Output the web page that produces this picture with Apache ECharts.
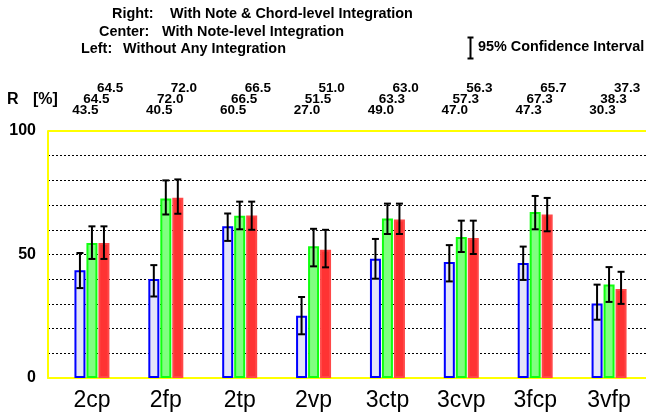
<!DOCTYPE html>
<html>
<head>
<meta charset="utf-8">
<script src="https://cdn.jsdelivr.net/npm/echarts@6/dist/echarts.min.js"></script>
<style>
html,body{margin:0;padding:0;background:#fff;}
#main{width:646px;height:414px;}
</style>
</head>
<body>
<div id="main"></div>
<script>
const categories = ['2cp','2fp','2tp','2vp','3ctp','3cvp','3fcp','3vfp'];
const leftVals   = [43.6, 40.1, 61.4, 25.2, 48.3, 47.0, 46.6, 30.2];
const centerVals = [54.7, 72.7, 65.7, 53.3, 64.6, 57.1, 67.2, 37.9];
const rightVals  = [54.7, 73.0, 65.8, 51.9, 64.2, 56.7, 66.2, 36.0];
const leftLow    = [36.4, 33.0, 55.5, 17.7, 40.2, 39.1, 39.7, 23.6];
const leftHigh   = [50.6, 45.7, 66.6, 32.8, 56.3, 53.8, 53.2, 37.8];
const centerLow  = [48.2, 66.2, 60.2, 45.2, 58.3, 51.0, 60.2, 30.8];
const centerHigh = [61.4, 80.0, 71.4, 60.4, 70.6, 63.7, 73.7, 44.9];
const rightLow   = [48.2, 66.5, 60.0, 44.8, 58.3, 50.2, 59.4, 30.0];
const rightHigh  = [61.4, 80.4, 71.4, 60.0, 70.6, 63.7, 72.9, 43.0];
const labelRight  = ['64.5','72.0','66.5','51.0','63.0','56.3','65.7','37.3'];
const labelCenter = ['64.5','72.0','66.5','51.5','63.3','57.3','67.3','38.3'];
const labelLeft   = ['43.5','40.5','60.5','27.0','49.0','47.0','47.3','30.3'];
const yTicks = [0, 50, 100];

const FONT = '"Liberation Sans", Arial, sans-serif';
const chart = echarts.init(document.getElementById('main'), null, {renderer:'canvas'});

function errSeries(low, high, offset) {
  return {
    type: 'custom', xAxisIndex: 1, yAxisIndex: 2, z: 10,
    data: categories.map((c, i) => [i, low[i], high[i]]),
    renderItem: function (params, api) {
      const a = api.coord([api.value(0), api.value(1)]);
      const b = api.coord([api.value(0), api.value(2)]);
      const x = a[0] + offset;
      const st = {stroke: '#000', lineWidth: 2};
      return {type: 'group', children: [
        {type: 'line', shape: {x1: x, y1: a[1], x2: x, y2: b[1]}, style: st},
        {type: 'line', shape: {x1: x - 3.5, y1: a[1], x2: x + 3.5, y2: a[1]}, style: st},
        {type: 'line', shape: {x1: x - 3.5, y1: b[1], x2: x + 3.5, y2: b[1]}, style: st}
      ]};
    }
  };
}

function labelSeries(labels, dx, dy) {
  return {
    type: 'custom', xAxisIndex: 1, yAxisIndex: 2, z: 10, clip: false,
    data: categories.map((c, i) => [i, 100]),
    renderItem: function (params, api) {
      const p = api.coord([api.value(0), api.value(1)]);
      return {type: 'text', x: p[0] + dx, y: p[1] + dy,
        style: {text: labels[params.dataIndex], fill: '#000', font: 'bold 13.5px ' + FONT,
          textAlign: 'left', textVerticalAlign: 'middle'}};
    }
  };
}

const LF = 'bold 14.4px ' + FONT;
const option = {
  animation: false,
  backgroundColor: '#fff',
  grid: [
    {left: 48, right: 0, top: 131, bottom: 36},
    {left: 55, right: 0, top: 131, bottom: 36}
  ],
  xAxis: [
    {type: 'value', gridIndex: 0, min: 0, max: 1,
     axisLine: {show: true, onZero: true, lineStyle: {color: '#ffff00', width: 2}},
     axisTick: {show: false}, axisLabel: {show: false}, splitLine: {show: false}},
    {type: 'category', gridIndex: 1, data: categories,
     axisLine: {show: false}, axisTick: {show: false},
     axisLabel: {fontSize: 23, color: '#000', fontFamily: FONT, margin: 11}}
  ],
  yAxis: [
    {type: 'value', gridIndex: 0, min: 0, max: 100, interval: 10,
     axisLine: {show: true, lineStyle: {color: '#ffff00', width: 2}},
     axisTick: {show: false},
     axisLabel: {margin: 12, fontSize: 16, fontWeight: 'bold', color: '#000', fontFamily: FONT,
       formatter: v => yTicks.indexOf(v) >= 0 ? String(v) : ''},
     splitLine: {show: true, showMinLine: false, showMaxLine: false,
       lineStyle: {color: '#000', width: 1, type: [2, 2]}}},
    {type: 'value', gridIndex: 0, min: 0, max: 100, interval: 100, z: 3,
     axisLine: {show: false}, axisTick: {show: false}, axisLabel: {show: false},
     splitLine: {show: true, lineStyle: {color: '#ffff00', width: 2}}},
    {type: 'value', gridIndex: 1, min: 0, max: 100, show: false}
  ],
  series: [
    {type: 'bar', xAxisIndex: 1, yAxisIndex: 2, data: leftVals, barWidth: 11, barGap: '9%', z: 5,
     itemStyle: {color: '#e4e4f8', borderColor: '#0000ff', borderWidth: 2}},
    {type: 'bar', xAxisIndex: 1, yAxisIndex: 2, data: centerVals, barWidth: 11, barGap: '9%', z: 5,
     itemStyle: {color: '#80ff80', borderColor: '#10ff10', borderWidth: 2}},
    {type: 'bar', xAxisIndex: 1, yAxisIndex: 2, data: rightVals, barWidth: 11, barGap: '9%', z: 5,
     itemStyle: {color: '#ff3333', borderColor: '#ff4848', borderWidth: 2}},
    errSeries(leftLow, leftHigh, -12),
    errSeries(centerLow, centerHigh, 0),
    errSeries(rightLow, rightHigh, 12),
    labelSeries(labelRight, 5, -43),
    labelSeries(labelCenter, -8.7, -32),
    labelSeries(labelLeft, -19.7, -21)
  ],
  graphic: [
    {type: 'text', left: 112, top: 7, style: {text: 'Right:', font: LF, fill: '#000'}},
    {type: 'text', left: 170, top: 7, style: {text: 'With Note & Chord-level Integration', font: LF, fill: '#000'}},
    {type: 'text', left: 99, top: 25, style: {text: 'Center:', font: LF, fill: '#000'}},
    {type: 'text', left: 162, top: 25, style: {text: 'With Note-level Integration', font: LF, fill: '#000'}},
    {type: 'text', left: 81, top: 42, style: {text: 'Left:', font: LF, fill: '#000'}},
    {type: 'text', left: 123, top: 42, style: {text: 'Without Any Integration', font: LF, fill: '#000'}},
    {type: 'text', left: 478, top: 40, style: {text: '95% Confidence Interval', font: LF, fill: '#000'}},
    {type: 'group', left: 465, top: 35, children: [
      {type: 'line', shape: {x1: 3, y1: 0, x2: 3, y2: 21}, style: {stroke: '#000', lineWidth: 2}},
      {type: 'line', shape: {x1: 0, y1: 0, x2: 6, y2: 0}, style: {stroke: '#000', lineWidth: 2}},
      {type: 'line', shape: {x1: 0, y1: 21, x2: 6, y2: 21}, style: {stroke: '#000', lineWidth: 2}}
    ]},
    {type: 'text', left: 7, top: 92, style: {text: 'R', font: 'bold 16px ' + FONT, fill: '#000'}},
    {type: 'text', left: 33, top: 92, style: {text: '[%]', font: 'bold 16px ' + FONT, fill: '#000'}}
  ]
};
chart.setOption(option);
</script>
</body>
</html>
